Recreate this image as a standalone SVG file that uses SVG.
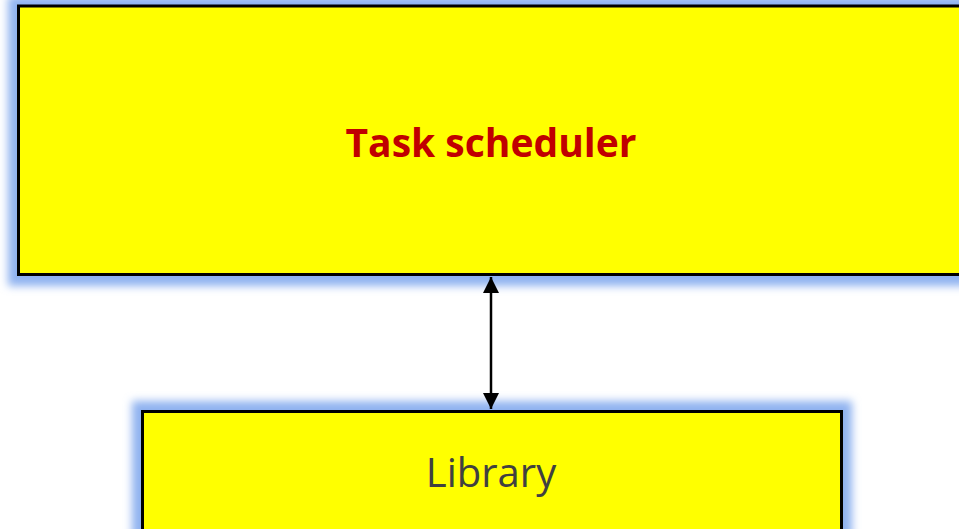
<svg xmlns="http://www.w3.org/2000/svg" width="959" height="529" viewBox="0 0 959 529">
  <style>
    .box { fill: #ffff00; stroke: #000000; stroke-width: 3; }
    .glow { fill: #8fb2f0; filter: url(#soft); }
    .title { font-family: "Open Sans", "Noto Sans", sans-serif; font-weight: bold; font-size: 39px; fill: #c00000; text-anchor: middle; }
    .label { font-family: "Open Sans", "Noto Sans", sans-serif; font-size: 40px; fill: #404040; text-anchor: middle; }
    .link { stroke: #000000; stroke-width: 2.5; fill: none; }
  </style>
  <defs>
    <filter id="soft" x="-10%" y="-20%" width="120%" height="140%">
      <feGaussianBlur stdDeviation="4.5"/>
    </filter>
    <marker id="head" viewBox="0 0 10 10" refX="10" refY="5" markerWidth="6.4" markerHeight="6.4" orient="auto-start-reverse" markerUnits="strokeWidth">
      <path d="M0,0 L10,5 L0,10 z" fill="#000000"/>
    </marker>
  </defs>
  <rect width="959" height="529" fill="#ffffff"/>

  <g id="task-scheduler">
    <rect class="glow" x="8" y="-4" width="970" height="290"/>
    <rect class="box" x="18.5" y="6" width="960" height="268.5"/>
    <text class="title" x="491" y="157">Task scheduler</text>
  </g>

  <g id="library">
    <rect class="glow" x="132" y="401" width="720" height="145"/>
    <rect class="box" x="142.5" y="411.5" width="699" height="130"/>
    <text class="label" x="491" y="487">Library</text>
  </g>

  <g id="connectors">
    <line class="link" x1="491" y1="277" x2="491" y2="409" marker-start="url(#head)" marker-end="url(#head)"/>
  </g>
</svg>
